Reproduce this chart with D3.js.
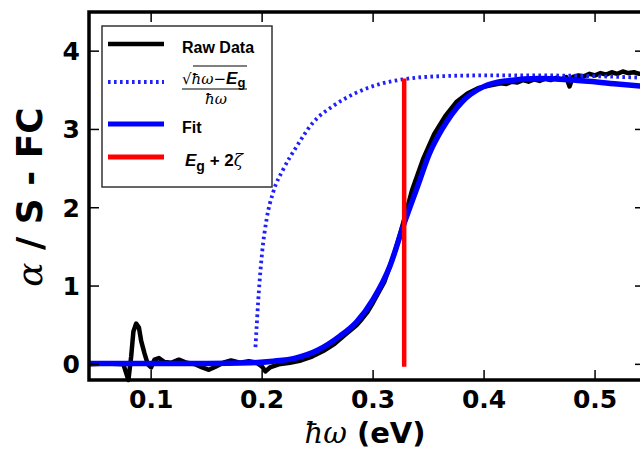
<!DOCTYPE html>
<html>
<head>
<meta charset="utf-8">
<script src="https://cdn.jsdelivr.net/npm/d3@7"></script>
<style>
  body { margin: 0; background: #fff; }
  svg { display: block; }
</style>
</head>
<body>
<script>
// values (x = photon energy in eV, y = alpha / S - FC)
var rawX = [0.044,0.06,0.075,0.0795,0.082,0.084,0.0865,0.089,0.091,0.094,0.097,0.1,0.103,0.107,0.112,0.118,0.125,0.132,0.14,0.146,0.152,0.158,0.165,0.172,0.18,0.188,0.195,0.2,0.203,0.207,0.215,0.225,0.235,0.245,0.255,0.265,0.275,0.285,0.29,0.295,0.3,0.31,0.32,0.327,0.335,0.345,0.355,0.365,0.375,0.385,0.395,0.405,0.415,0.42,0.425,0.43,0.435,0.44,0.445,0.45,0.455,0.46,0.465,0.47,0.474,0.477,0.48,0.485,0.49,0.495,0.5,0.505,0.51,0.515,0.52,0.525,0.53,0.535,0.54,0.545];
var rawY = [0.0,0.01,0.0,-0.2,0.1,0.42,0.52,0.47,0.3,0.14,0.0,-0.04,0.06,0.08,0.03,0.02,0.06,0.02,0.0,-0.04,-0.07,-0.03,0.02,0.05,0.02,0.04,0.02,-0.03,-0.09,-0.04,0.0,0.02,0.05,0.1,0.17,0.26,0.38,0.5,0.58,0.67,0.79,1.05,1.45,1.8,2.22,2.62,2.94,3.17,3.35,3.46,3.53,3.56,3.59,3.58,3.61,3.6,3.63,3.61,3.64,3.62,3.65,3.63,3.66,3.64,3.67,3.55,3.67,3.69,3.68,3.71,3.69,3.72,3.7,3.73,3.71,3.74,3.72,3.73,3.71,3.72];

var dotX = [0.194,0.197,0.2,0.204,0.21,0.219,0.231,0.246,0.264,0.285,0.306,0.327,0.36,0.4,0.45,0.5,0.545];
var dotY = [0.22,0.92,1.43,1.85,2.2,2.49,2.78,3.09,3.3,3.47,3.58,3.64,3.68,3.69,3.69,3.68,3.66];

var fitX = [0.044,0.1,0.15,0.19,0.21,0.23,0.25,0.27,0.285,0.3,0.315,0.327,0.34,0.351,0.362,0.38,0.4,0.42,0.45,0.48,0.52,0.545];
var fitY = [0.01,0.01,0.01,0.02,0.04,0.08,0.18,0.36,0.54,0.83,1.25,1.76,2.27,2.7,3.0,3.35,3.55,3.62,3.65,3.63,3.58,3.55];

var egX = [0.328, 0.328];
var egY = [-0.03, 3.65];

var xTicks = [0.1, 0.2, 0.3, 0.4, 0.5];
var yTicks = [0, 1, 2, 3, 4];

var W = 640, H = 454;
var svg = d3.select("body").append("svg")
  .attr("width", W)
  .attr("height", H);

var x = d3.scaleLinear().domain([0.044, 0.545]).range([89, 645]);
var y = d3.scaleLinear().domain([-0.2, 4.5]).range([380, 12]);

function pts(xs, ys) {
  return xs.map(function (v, i) { return [v, ys[i]]; });
}

var line = d3.line()
  .x(function (d) { return x(d[0]); })
  .y(function (d) { return y(d[1]); });

var plot = svg.append("g");

plot.append("path")
  .attr("d", line(pts(rawX, rawY)))
  .attr("fill", "none")
  .attr("stroke", "#000")
  .attr("stroke-width", 4.5)
  .attr("stroke-linejoin", "round");

plot.append("path")
  .attr("d", line.curve(d3.curveMonotoneX)(pts(dotX, dotY)))
  .attr("fill", "none")
  .attr("stroke", "#1f1fff")
  .attr("stroke-width", 3.8)
  .attr("stroke-dasharray", "2.6,3.4");

plot.append("path")
  .attr("d", line.curve(d3.curveMonotoneX)(pts(fitX, fitY)))
  .attr("fill", "none")
  .attr("stroke", "#0000ff")
  .attr("stroke-width", 5.5);

line.curve(d3.curveLinear);
plot.append("path")
  .attr("d", line(pts(egX, egY)))
  .attr("fill", "none")
  .attr("stroke", "#ff0000")
  .attr("stroke-width", 4.5);

// ticks, pointing inward on all four sides
var tickLen = 10;
var tk = svg.append("g").attr("stroke", "#000").attr("stroke-width", 1.5);
xTicks.forEach(function (t) {
  tk.append("line").attr("x1", x(t)).attr("x2", x(t)).attr("y1", y.range()[0]).attr("y2", y.range()[0] - tickLen);
  tk.append("line").attr("x1", x(t)).attr("x2", x(t)).attr("y1", y.range()[1]).attr("y2", y.range()[1] + tickLen);
});
yTicks.forEach(function (t) {
  tk.append("line").attr("x1", x.range()[0]).attr("x2", x.range()[0] + tickLen).attr("y1", y(t)).attr("y2", y(t));
  tk.append("line").attr("x1", x.range()[1]).attr("x2", x.range()[1] - tickLen).attr("y1", y(t)).attr("y2", y(t));
});

// frame
svg.append("rect")
  .attr("x", x.range()[0])
  .attr("y", y.range()[1])
  .attr("width", x.range()[1] - x.range()[0])
  .attr("height", y.range()[0] - y.range()[1])
  .attr("fill", "none")
  .attr("stroke", "#000")
  .attr("stroke-width", 3.5);

// tick labels
svg.append("g").selectAll("text").data(xTicks).enter().append("text")
  .attr("x", function (d) { return x(d); })
  .attr("y", 408)
  .attr("text-anchor", "middle")
  .attr("font-family", "DejaVu Sans")
  .attr("font-weight", "bold")
  .attr("font-size", 25)
  .text(function (d) { return d.toFixed(1); });

svg.append("g").selectAll("text").data(yTicks).enter().append("text")
  .attr("x", 80)
  .attr("y", function (d) { return y(d) + 9; })
  .attr("text-anchor", "end")
  .attr("font-family", "DejaVu Sans")
  .attr("font-weight", "bold")
  .attr("font-size", 25)
  .text(function (d) { return d; });

// axis titles
var xl = svg.append("text")
  .attr("x", 365)
  .attr("y", 443)
  .attr("text-anchor", "middle")
  .attr("font-family", "DejaVu Sans")
  .attr("font-weight", "bold")
  .attr("font-size", 29);
xl.append("tspan").attr("font-family", "DejaVu Serif").attr("font-style", "italic").attr("font-weight", "normal").text("ħω");
xl.append("tspan").text(" (eV)");

var yl = svg.append("text")
  .attr("transform", "translate(42,197) rotate(-90)")
  .attr("text-anchor", "middle")
  .attr("font-family", "DejaVu Sans")
  .attr("font-weight", "bold")
  .attr("font-size", 36);
yl.append("tspan").attr("font-family", "DejaVu Serif").attr("font-style", "italic").attr("font-weight", "normal").text("α");
yl.append("tspan").text(" / S - FC");

// legend
var lg = svg.append("g");
lg.append("rect")
  .attr("x", 102).attr("y", 26)
  .attr("width", 170).attr("height", 161)
  .attr("fill", "#fff")
  .attr("stroke", "#333")
  .attr("stroke-width", 1.5);

var legendItems = [
  { y: 44, color: "#000", width: 4.5, dash: null },
  { y: 82, color: "#1f1fff", width: 3.8, dash: "2.6,3.4" },
  { y: 124, color: "#0000ff", width: 5, dash: null },
  { y: 157, color: "#ff0000", width: 5, dash: null }
];
legendItems.forEach(function (d) {
  lg.append("line")
    .attr("x1", 108).attr("x2", 164)
    .attr("y1", d.y).attr("y2", d.y)
    .attr("stroke", d.color)
    .attr("stroke-width", d.width)
    .attr("stroke-dasharray", d.dash);
});

var lf = "Liberation Sans, Arial, sans-serif";
lg.append("text").attr("x", 182).attr("y", 53)
  .attr("font-family", lf).attr("font-weight", "bold").attr("font-size", 16)
  .text("Raw Data");

// fraction label
var num = lg.append("text").attr("x", 182).attr("y", 84)
  .attr("font-size", 15).attr("font-family", "DejaVu Serif");
num.append("tspan").text("√");
num.append("tspan").attr("font-style", "italic").text("ħω");
num.append("tspan").text("−");
num.append("tspan").attr("font-family", lf).attr("font-style", "italic").attr("font-weight", "bold").attr("font-size", 17).text("E");
num.append("tspan").attr("font-family", lf).attr("font-weight", "bold").attr("font-size", 13).attr("dy", 3).text("g");
lg.append("line").attr("x1", 193).attr("x2", 247).attr("y1", 66).attr("y2", 66)
  .attr("stroke", "#000").attr("stroke-width", 1);
lg.append("line").attr("x1", 182).attr("x2", 247).attr("y1", 89).attr("y2", 89)
  .attr("stroke", "#000").attr("stroke-width", 1.2);
lg.append("text").attr("x", 216).attr("y", 104)
  .attr("text-anchor", "middle")
  .attr("font-family", "DejaVu Serif").attr("font-style", "italic").attr("font-size", 15)
  .text("ħω");

lg.append("text").attr("x", 182).attr("y", 133)
  .attr("font-family", lf).attr("font-weight", "bold").attr("font-size", 16)
  .text("Fit");

var eg = lg.append("text").attr("x", 185).attr("y", 166)
  .attr("font-family", lf).attr("font-weight", "bold").attr("font-size", 17);
eg.append("tspan").attr("font-style", "italic").text("E");
eg.append("tspan").attr("font-size", 14).attr("dy", 5).text("g");
eg.append("tspan").attr("dy", -5).text(" + 2");
eg.append("tspan").attr("font-family", "DejaVu Serif").attr("font-style", "italic").attr("font-weight", "normal").text("ζ");
</script>
</body>
</html>
